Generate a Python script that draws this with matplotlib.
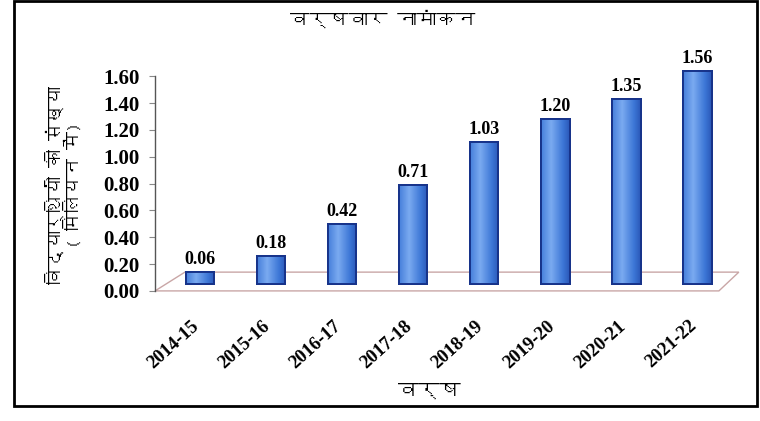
import numpy as np
import matplotlib
matplotlib.use("Agg")
import matplotlib.pyplot as plt
import matplotlib.transforms as mtrans
from matplotlib import font_manager, ft2font
from matplotlib.patches import Rectangle, Polygon

years = ["2014-15", "2015-16", "2016-17", "2017-18",
         "2018-19", "2019-20", "2020-21", "2021-22"]
enrol = [0.06, 0.18, 0.42, 0.71, 1.03, 1.20, 1.35, 1.56]
yticks = [0.0, 0.2, 0.4, 0.6, 0.8, 1.0, 1.2, 1.4, 1.6]

title = "वर्षवार नामांकन"
ylabel = "विद्यार्थियों की संख्या\n( मिलियन में)"
xlabel = "वर्ष"


# find some installed font that has Devanagari glyphs
def find_font(ch):
    for f in font_manager.fontManager.ttflist:
        try:
            ft = ft2font.FT2Font(f.fname)
            if ord(ch) in ft.get_charmap():
                return f.name
        except Exception:
            pass
    return None


deva = find_font("व")
hi_family = [deva, "DejaVu Sans"] if deva else ["DejaVu Sans"]
num_family = ["Liberation Serif", "DejaVu Serif"]

fig = plt.figure(figsize=(7.6, 4.21), dpi=100)
# y axis drawn up to 1.6 only, extra room above for the labels
ax = fig.add_axes([0.204, 0.309, 0.77, 0.51 * 1.8 / 1.6])

x = np.arange(len(years))

# floor of the 3d plot
depth = 0.14
floor = Polygon([(-0.63, 0), (7.3, 0), (7.58, depth), (-0.21, depth)],
                closed=True, fill=False, edgecolor="#c9a6a6", lw=1.0,
                clip_on=False, zorder=1)
ax.add_patch(floor)

# cylinders
base = 0.05
lift = 0.08
w = 0.4
grad = np.linspace(0, 1, 64)
shade = 1 - np.abs(grad - 0.35) * 1.2
cmap = matplotlib.colors.LinearSegmentedColormap.from_list(
    "cyl", ["#1d3f9e", "#3c76d6", "#7aaaf0"])
for xi, v in zip(x, enrol):
    top = v + lift
    bar = ax.bar(xi, top - base, bottom=base, width=w, color="#3c76d6",
                 edgecolor="#17338a", lw=1.4, zorder=3)[0]
    im = ax.imshow(shade[None, :], cmap=cmap, aspect="auto",
                   extent=(xi - w / 2, xi + w / 2, base, top), zorder=3,
                   vmin=0, vmax=1)
    im.set_clip_path(bar)
    ax.bar(xi, top - base, bottom=base, width=w, fill=False,
           edgecolor="#17338a", lw=1.4, zorder=4)
    ax.text(xi, top + 0.03, f"{v:.2f}", ha="center", va="bottom",
            fontsize=13, fontweight="bold", family=num_family, zorder=5)

ax.set_xlim(-0.63, 7.6)
ax.set_ylim(0, 1.8)

for s in ["top", "right", "bottom"]:
    ax.spines[s].set_visible(False)
ax.spines["left"].set_color("#555555")
ax.spines["left"].set_linewidth(1.0)
ax.spines["left"].set_bounds(0, 1.6)

ax.set_yticks(yticks)
ax.set_yticklabels([f"{t:.2f}" for t in yticks], fontsize=15,
                   fontweight="bold", family=num_family)
ax.tick_params(axis="y", length=4, color="#888888", pad=7)
ax.set_xticks(x)
ax.set_xticklabels(years, rotation=42, ha="right", rotation_mode="anchor",
                   fontsize=13.5, fontweight="bold", family=num_family)
ax.tick_params(axis="x", length=0, pad=19)
# year labels sit a bit to the left of the cylinders
shift = mtrans.ScaledTranslation(-9 / 100, 0, fig.dpi_scale_trans)
for lab in ax.get_xticklabels():
    lab.set_transform(lab.get_transform() + shift)

fig.text(0.504, 0.955, title, ha="center", va="center", fontsize=14,
         family=hi_family)
fig.text(0.083, 0.56, ylabel, ha="center", va="center", rotation=90,
         fontsize=13, family=hi_family, linespacing=0.95)
fig.text(0.565, 0.072, xlabel, ha="center", va="center", fontsize=15,
         family=hi_family)

# outer frame
fig.add_artist(Rectangle((0.018, 0.036), 0.978, 0.961, fill=False,
                         edgecolor="black", lw=2, transform=fig.transFigure))

fig.savefig("out.png", dpi=100)
